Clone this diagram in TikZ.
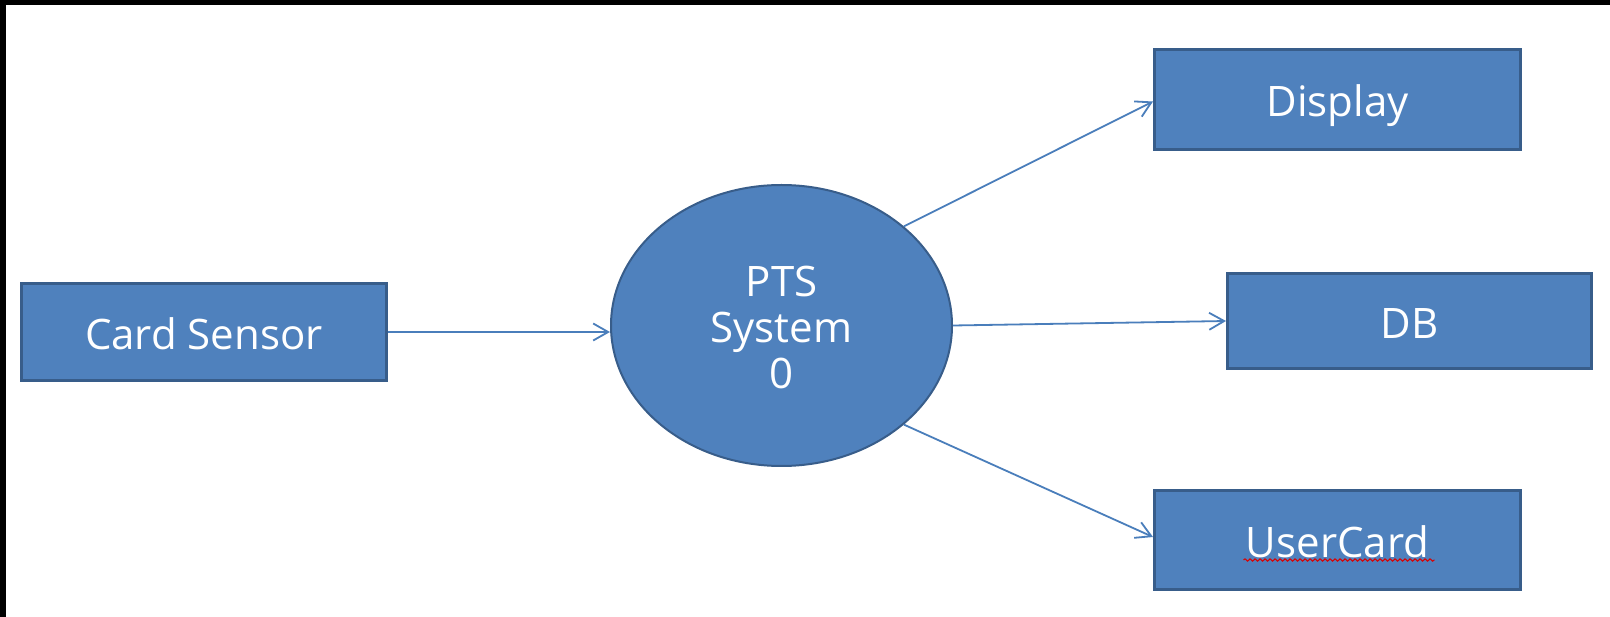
\documentclass[tikz,border=0pt]{standalone}
\usepackage{fontspec}
\setmainfont{Open Sans}
\usetikzlibrary{arrows.meta,decorations.pathmorphing,shapes.geometric}

\definecolor{boxfill}{HTML}{4F81BD}
\definecolor{boxedge}{HTML}{385D8A}
\definecolor{flow}{HTML}{4A7EBB}

\tikzset{
  entity/.style={draw=boxedge, line width=3pt, fill=boxfill, text=white,
    minimum height=98pt, inner sep=0pt, text height=35pt, text depth=0pt,
    font=\fontsize{42}{46}\selectfont},
  process/.style={ellipse, draw=boxedge, line width=2pt, fill=boxfill, text=white,
    minimum width=341pt, minimum height=281pt, inner sep=0pt, align=center,
    text height=126pt, text depth=0pt,
    font=\fontsize{42}{46}\selectfont},
  flowline/.style={draw=flow, line width=1.8pt,
    -{Straight Barb[length=15pt,width=17pt,line width=1.8pt]}},
}

\begin{document}
\begin{tikzpicture}[x=1pt,y=-1pt]
  % page frame
  \fill[white] (0,0) rectangle (1610,617);
  \useasboundingbox (0,0) rectangle (1610,617);
  \fill[black] (0,0) rectangle (1610,5);
  \fill[black] (0,0) rectangle (6,617);

  % external entities
  \node[entity, minimum width=365pt, minimum height=97pt] (cs) at (204,332) {Card Sensor};
  \node[entity, minimum width=366pt, minimum height=100pt] (disp) at (1337.5,99.5) {Display};
  \node[entity, minimum width=364pt, minimum height=95pt] (db) at (1409.5,321) {DB};
  \node[entity, minimum width=366pt, minimum height=99pt] (uc) at (1337.5,540) {UserCard};

  % the single process
  \node[process] (ell) at (781.5,325.5) {PTS\\System\\0};

  % spell-check underline beneath UserCard
  \draw[red!85!black, line width=1pt,
        decorate, decoration={snake, amplitude=1.2pt, segment length=5pt}]
    ([xshift=-94pt,yshift=-20pt]uc.center) -- ([xshift=97pt,yshift=-20pt]uc.center);

  % data flows
  \draw[flowline] (cs.east) -- (cs.east -| ell.west);
  \draw[flowline] (ell.39) -- ([yshift=-2pt]disp.west);
  \draw[flowline] (ell.east) -- (db.west);
  \draw[flowline] (ell.-39) -- ([yshift=3pt]uc.west);
\end{tikzpicture}
\end{document}
